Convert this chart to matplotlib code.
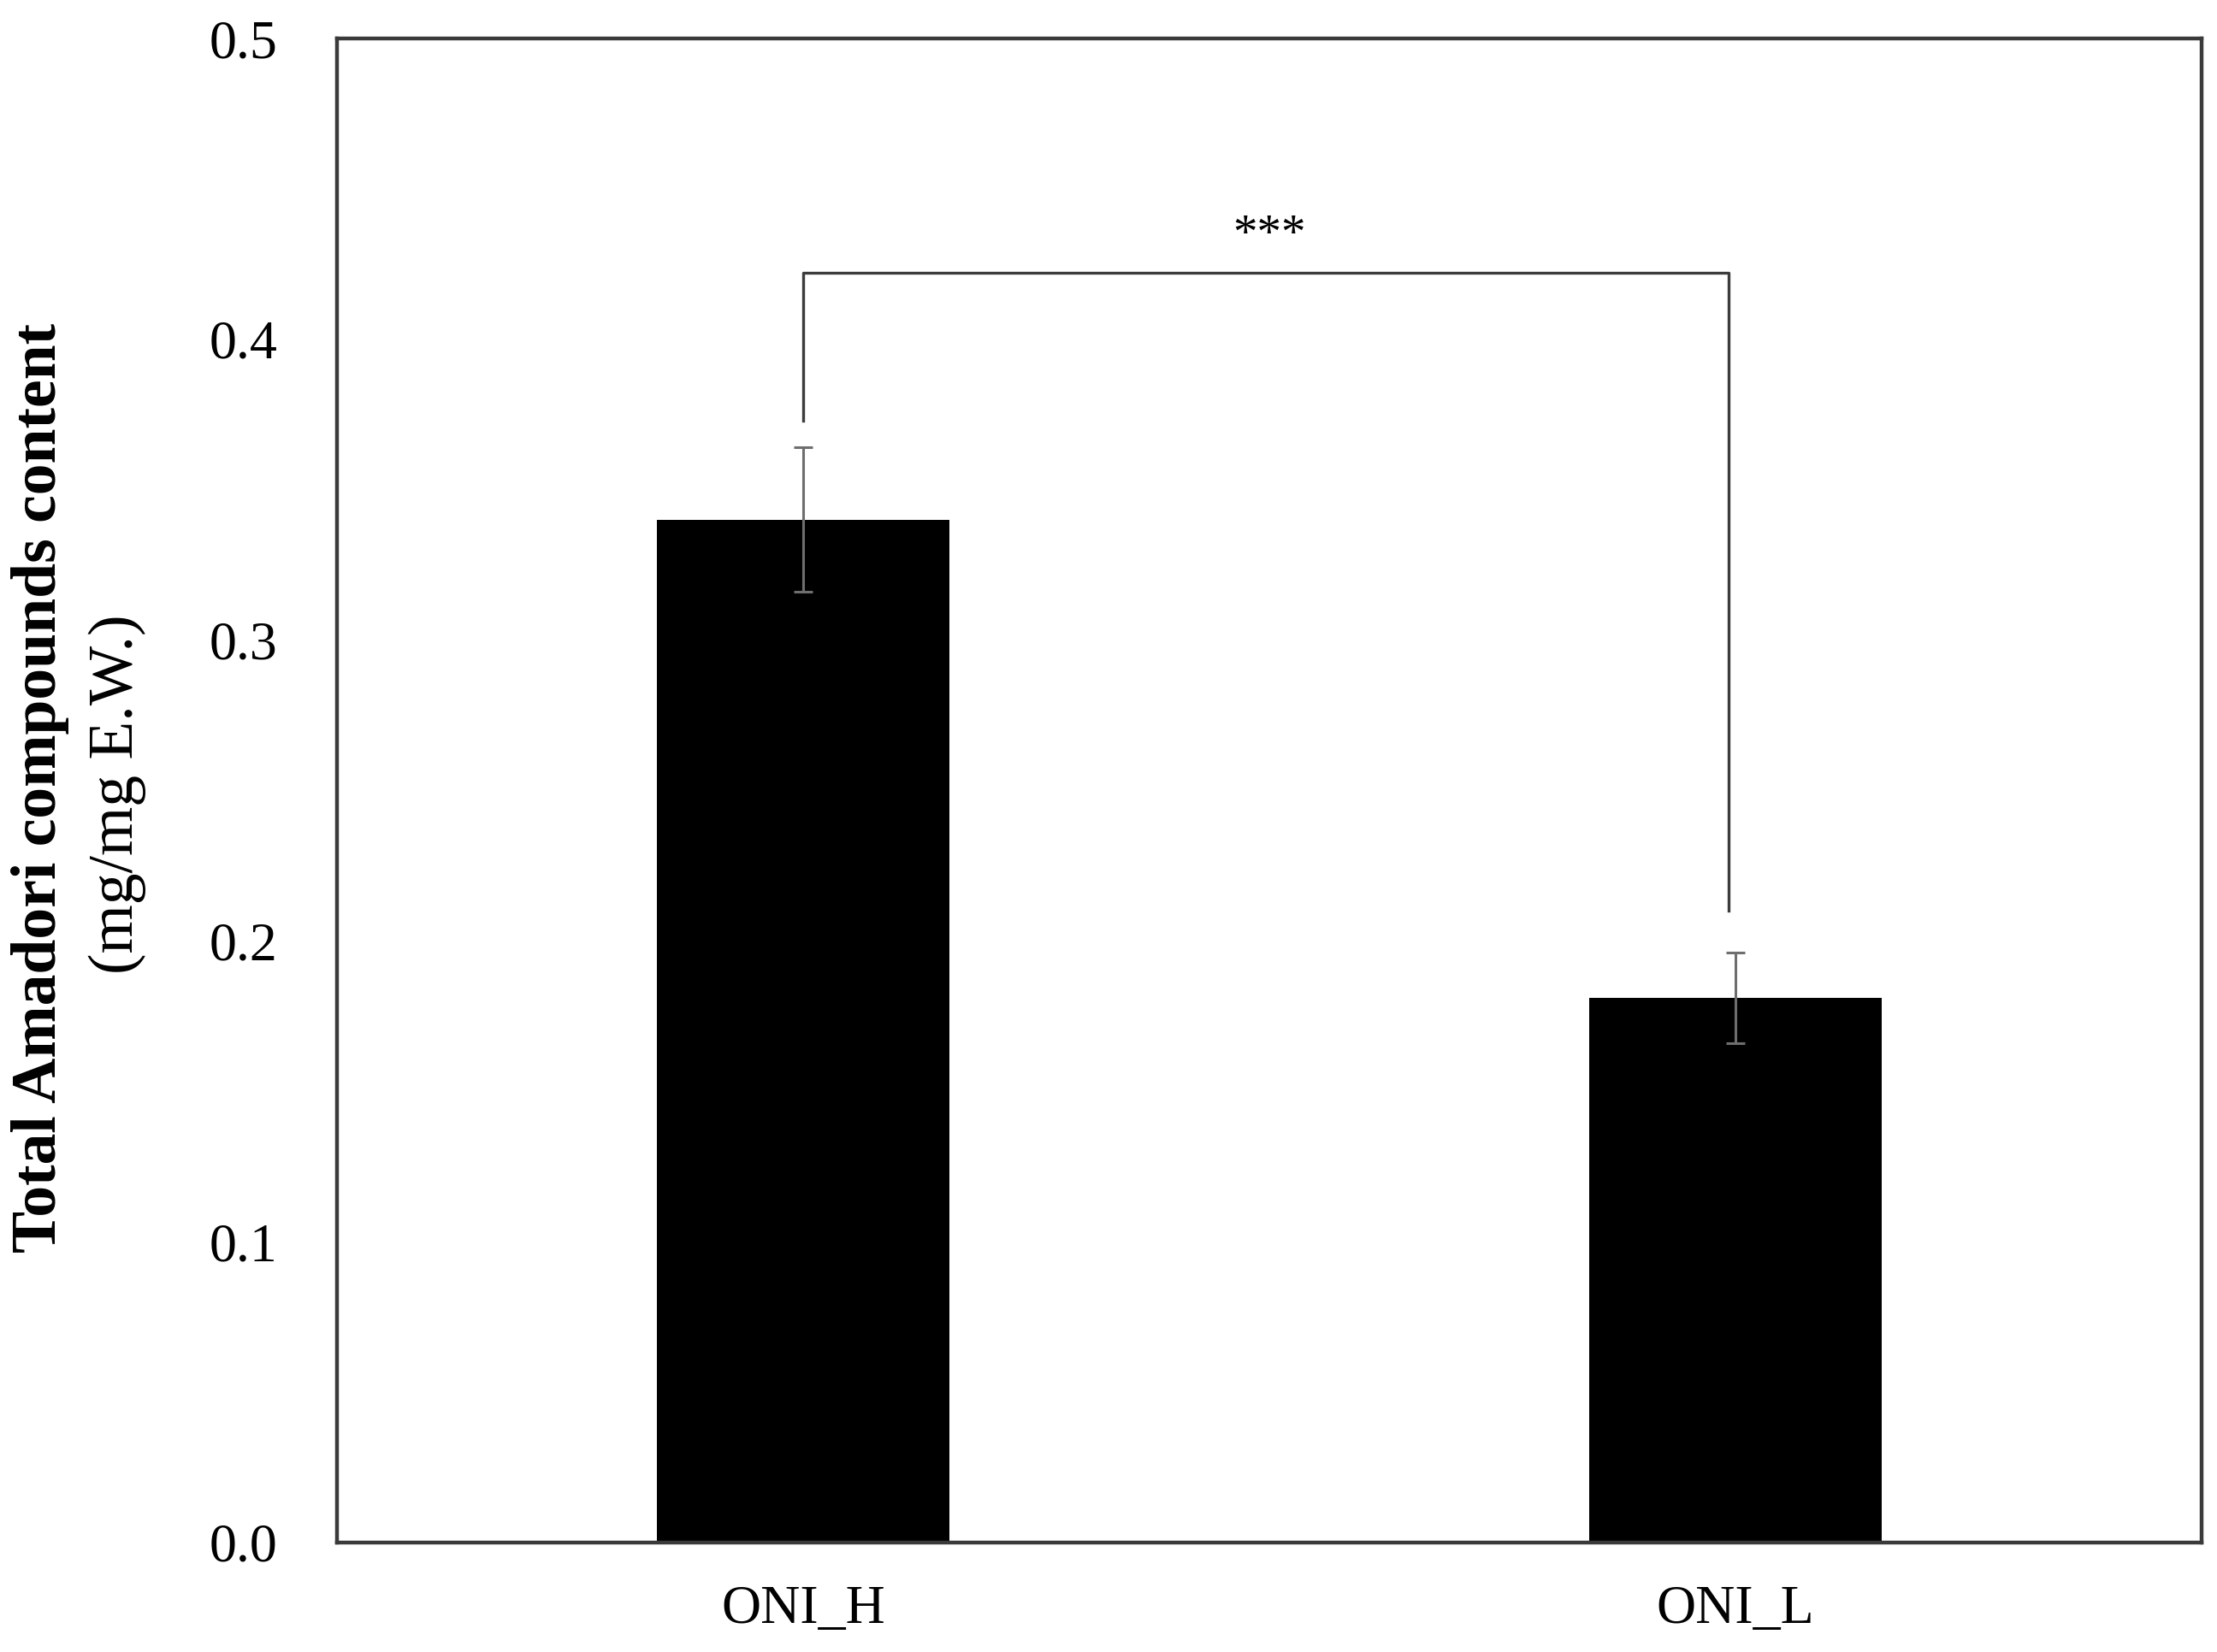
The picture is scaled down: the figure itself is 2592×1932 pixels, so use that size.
import matplotlib
matplotlib.use("Agg")
import matplotlib.pyplot as plt

categories = ["ONI_H", "ONI_L"]
means = [0.340, 0.181]
errors = [0.024, 0.015]
bracket_y = 0.422
bracket_ends = [0.373, 0.210]
sig_label = "***"
yticks = [0.0, 0.1, 0.2, 0.3, 0.4, 0.5]
ytick_labels = ["0.0", "0.1", "0.2", "0.3", "0.4", "0.5"]

serif = ["Liberation Serif", "DejaVu Serif"]
plt.rcParams["font.family"] = serif

W, H = 2592, 1932
fig = plt.figure(figsize=(W / 100, H / 100), dpi=100)
ax = fig.add_axes([394 / W, 1 - 1804 / H, (2574 - 394) / W, (1804 - 45) / H])

x = list(range(len(categories)))
ax.bar(x, means, width=0.313, color="black", zorder=2)
ax.errorbar(x, means, yerr=errors, fmt="none", ecolor="#6e6e6e",
            elinewidth=2.2, capsize=8, capthick=2.2, zorder=3)

# significance bracket
bx = [x[0], x[0], x[1] - 0.007, x[1] - 0.007]
by = [bracket_ends[0], bracket_y, bracket_y, bracket_ends[1]]
ax.plot(bx, by, color="#3c3c3c", linewidth=2.4, zorder=3)
ax.text((x[0] + x[1]) / 2, bracket_y + 0.005, sig_label, ha="center",
        va="bottom", fontsize=41, family=serif)

ax.set_xlim(-0.5, 1.5)
ax.set_ylim(0, 0.5)
ax.set_yticks(yticks)
ax.set_yticklabels(ytick_labels)
ax.set_xticks(x)
ax.set_xticklabels(categories)
ax.tick_params(axis="both", length=0, labelsize=46, colors="black")
ax.tick_params(axis="y", pad=50)
ax.tick_params(axis="x", pad=36)
for s in ax.spines.values():
    s.set_color("#3a3a3a")
    s.set_linewidth(3.2)

fig.text(47 / W, 1 - 921 / H, "Total Amadori compounds content", rotation=90,
         ha="center", va="center", fontsize=53, fontweight="bold", family=serif)
fig.text(137 / W, 1 - 929 / H, "(mg/mg E.W.)", rotation=90,
         ha="center", va="center", fontsize=53, family=serif)

fig.savefig("out.png", dpi=100, facecolor="white")
